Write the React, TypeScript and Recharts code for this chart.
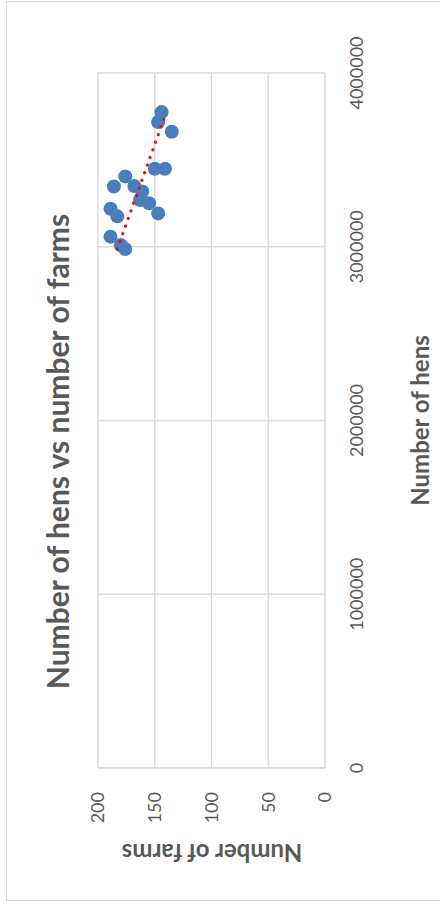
import React from "react";
import { ScatterChart, Scatter, XAxis, YAxis, CartesianGrid } from "recharts";

// values (hens on x, farms on y in the unrotated chart)
const hens = [
  3775000, 3718000, 3662000, 3449000, 3449000, 3405000, 3347000, 3350000, 3318000,
  3269000, 3250000, 3219000, 3175000, 3192000, 3058000, 3010000, 2987000,
];
const farms = [144, 147, 135, 150, 141, 176, 186, 168, 161, 163, 155, 189, 183, 147, 189, 180, 176];

const hensTicks = [0, 1000000, 2000000, 3000000, 4000000];
const farmTicks = [0, 50, 100, 150, 200];

const points = hens.map((h, i) => ({ hens: h, farms: farms[i] }));

// Excel style linear trendline, least squares over the points, drawn from min to max x
function linearTrend() {
  const n = hens.length;
  const mx = hens.reduce((a, b) => a + b, 0) / n;
  const my = farms.reduce((a, b) => a + b, 0) / n;
  let sxy = 0;
  let sxx = 0;
  hens.forEach((h, i) => {
    sxy += (h - mx) * (farms[i] - my);
    sxx += (h - mx) * (h - mx);
  });
  const slope = sxy / sxx;
  const lo = Math.min(...hens);
  const hi = Math.max(...hens);
  return [
    { hens: lo, farms: my + slope * (lo - mx) },
    { hens: hi, farms: my + slope * (hi - mx) },
  ];
}

const trend = linearTrend();

const FONT = "Lato, Carlito, 'Open Sans', sans-serif";
const GREY = "#595959";

export default function App() {
  return (
    <div
      style={{
        position: "absolute",
        left: 0,
        top: 0,
        width: 440,
        height: 905,
        overflow: "hidden",
        background: "#fff",
      }}
    >
      {/* the chart is laid out landscape and turned a quarter to the left */}
      <div
        style={{
          position: "absolute",
          left: 0,
          top: 0,
          width: 905,
          height: 440,
          transformOrigin: "0 0",
          transform: "translate(0px, 905px) rotate(-90deg)",
          fontFamily: FONT,
        }}
      >
        <div
          style={{
            position: "absolute",
            left: 4,
            top: 6,
            width: 898,
            height: 500,
            border: "1px solid #d9d9d9",
          }}
        />
        <div
          style={{
            position: "absolute",
            left: 4,
            width: 899,
            top: 42,
            textAlign: "center",
            fontSize: 30,
            fontWeight: 700,
            lineHeight: 1,
            color: GREY,
          }}
        >
          Number of hens vs number of farms
        </div>

        <ScatterChart
          width={905}
          height={440}
          margin={{ top: 98, right: 73, bottom: 75, left: 77 }}
          style={{ position: "absolute", left: 0, top: 0 }}
        >
          <CartesianGrid stroke="#d9d9d9" strokeWidth={1.3} />
          <XAxis
            type="number"
            dataKey="hens"
            domain={[0, 4000000]}
            ticks={hensTicks}
            interval={0}
            height={40}
            axisLine={{ stroke: "#d9d9d9" }}
            tickLine={false}
            tickSize={0}
            tickMargin={25}
            tick={{ fontSize: 18, fill: GREY, fontFamily: FONT }}
          />
          <YAxis
            type="number"
            dataKey="farms"
            domain={[0, 200]}
            ticks={farmTicks}
            interval={0}
            width={60}
            axisLine={{ stroke: "#d9d9d9" }}
            tickLine={false}
            tickSize={0}
            tickMargin={24}
            tick={{ fontSize: 18, fill: GREY, fontFamily: FONT }}
          />
          <Scatter
            data={points}
            isAnimationActive={false}
            shape={(p: any) => <circle cx={p.cx} cy={p.cy} r={7} fill="#4a7ebb" />}
          />
          <Scatter
            data={trend}
            isAnimationActive={false}
            line={{
              stroke: "#ff0000",
              strokeWidth: 3.2,
              strokeDasharray: "0.1 8",
              strokeLinecap: "round",
            }}
            shape={() => <g />}
          />
        </ScatterChart>

        <div
          style={{
            position: "absolute",
            left: 137,
            width: 695,
            top: 408,
            textAlign: "center",
            fontSize: 24,
            fontWeight: 700,
            lineHeight: 1,
            color: GREY,
          }}
        >
          Number of hens
        </div>
        <div
          style={{
            position: "absolute",
            left: 52,
            top: 212,
            transform: "translate(-50%, -50%) rotate(-90deg)",
            whiteSpace: "nowrap",
            fontSize: 24,
            fontWeight: 700,
            lineHeight: 1,
            color: GREY,
          }}
        >
          Number of farms
        </div>
      </div>
    </div>
  );
}
